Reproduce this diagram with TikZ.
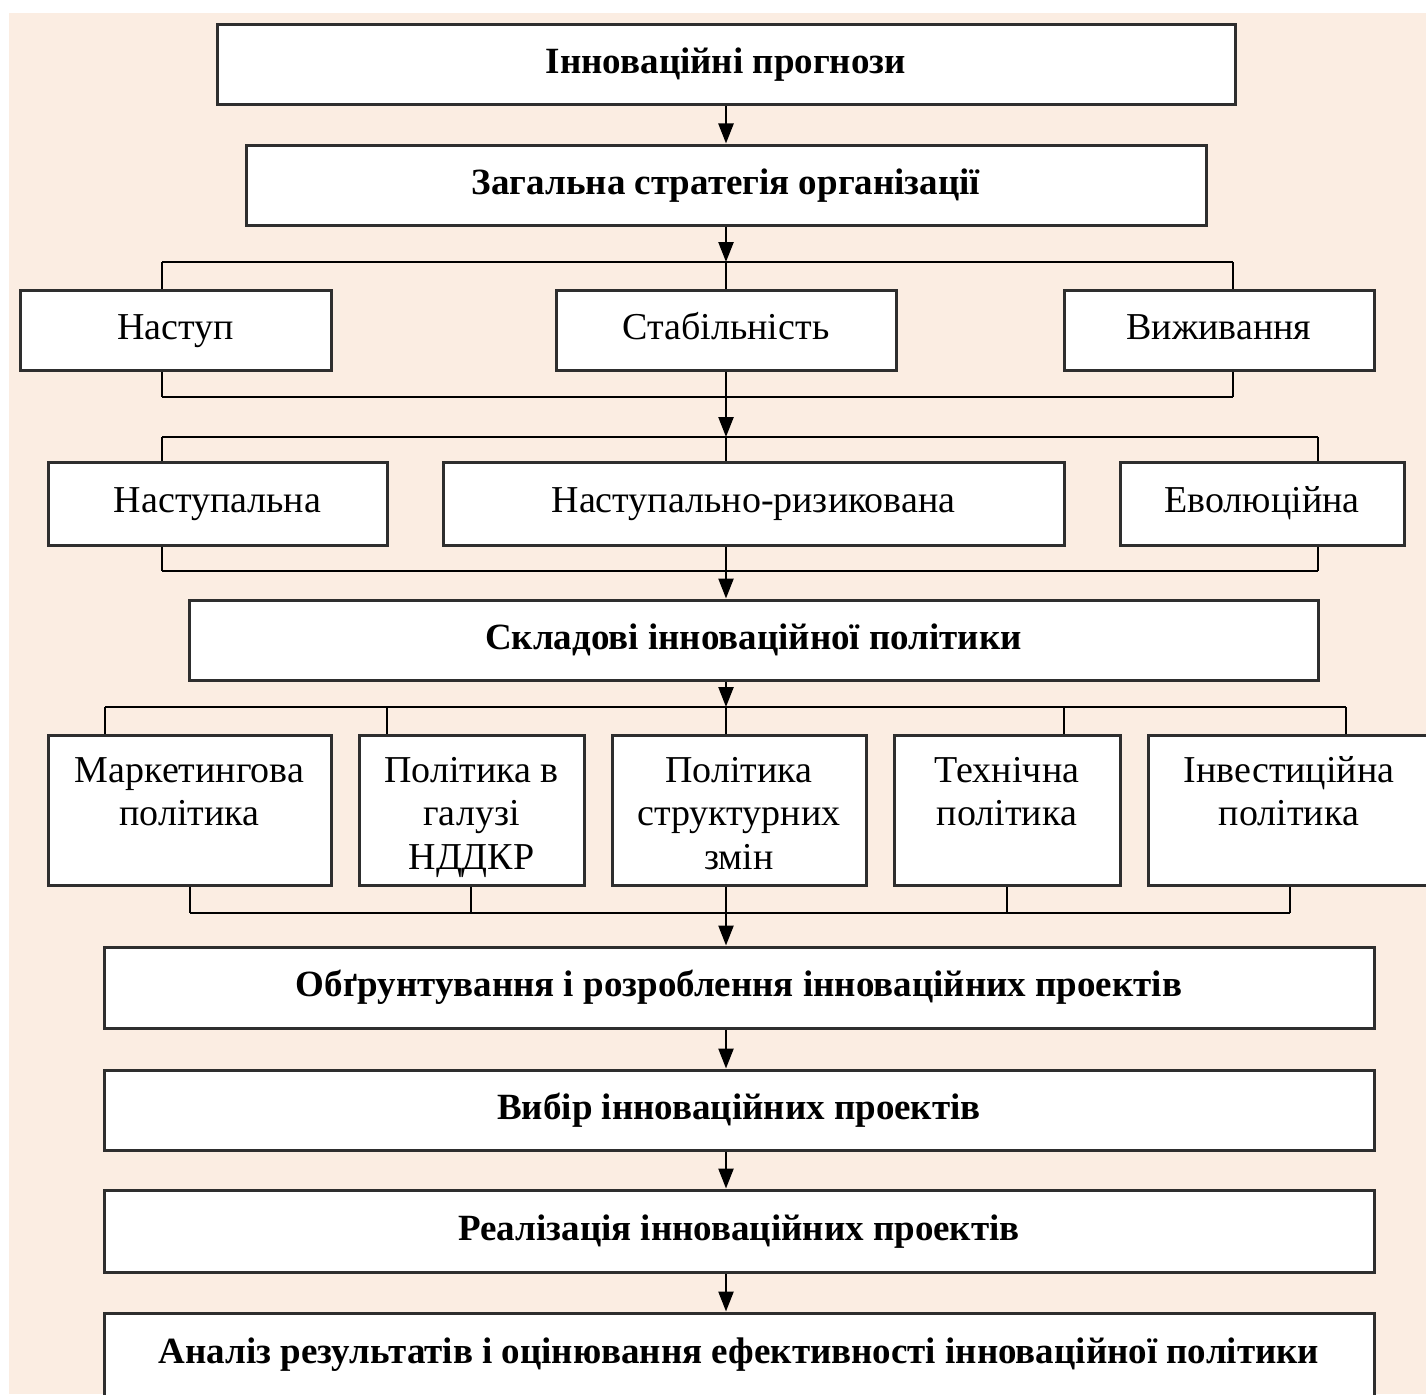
\documentclass[tikz,border=0pt]{standalone}
\usepackage{fontspec}
\setmainfont{Liberation Serif}
\usetikzlibrary{arrows.meta}
\definecolor{bg}{HTML}{FBEDE2}
\definecolor{frame}{HTML}{2E2E2E}
\newcommand\mytopgap{\rule{0pt}{40pt}}
\begin{document}
\begin{tikzpicture}[x=1pt,y=-1pt,
  box/.style={draw=frame, line width=3pt, fill=white, inner sep=0pt, align=center},
  reg/.style={font=\fontsize{38}{43.5}\selectfont},
  one/.style={text height=26pt, text depth=8pt},
  multi/.style={execute at end node=\rule[-9pt]{0pt}{9pt}},
  bld/.style={font=\fontsize{37}{42}\selectfont\bfseries, text height=26pt, text depth=8pt},
  conn/.style={line width=2.4pt, black},
  arr/.style={conn, -{Triangle[width=15pt,length=20pt]}}]
\fill[white] (0,0) rectangle (1426,1394);
\fill[bg] (9,13) rectangle (1426,1394);
\useasboundingbox (0,0) rectangle (1426,1394);

% coordinates of connector junctions
\coordinate (t1) at (726,262);  \coordinate (t1L) at (162,262);  \coordinate (t1R) at (1233,262);
\coordinate (u1) at (726,397);  \coordinate (u1L) at (162,397);  \coordinate (u1R) at (1233,397);
\coordinate (t2) at (726,437);  \coordinate (t2L) at (162,437);  \coordinate (t2R) at (1318,437);
\coordinate (u2) at (726,571);  \coordinate (u2L) at (162,571);  \coordinate (u2R) at (1318,571);
\coordinate (t3) at (726,707);  \coordinate (t3a) at (105,707); \coordinate (t3b) at (387,707);
\coordinate (t3d) at (1064,707); \coordinate (t3e) at (1346,707);
\coordinate (u3) at (726,913);  \coordinate (u3a) at (190,913); \coordinate (u3b) at (471,913);
\coordinate (u3d) at (1007,913); \coordinate (u3e) at (1290,913);

% connectors (drawn first, boxes cover their ends)
\draw[conn] (t1L) -- (t1R);
\draw[conn] (u1L) -- (u1R);
\draw[conn] (t2L) -- (t2R);
\draw[conn] (u2L) -- (u2R);
\draw[conn] (t3a) -- (t3e);
\draw[conn] (u3a) -- (u3e);

% boxes
\node[box, bld, minimum width=1018pt, minimum height=80pt] (prog) at (726,65) {Інноваційні прогнози};
\node[box, bld, minimum width=960pt, minimum height=80pt] (strat) at (726,185) {Загальна стратегія організації};

\node[box, reg, one, minimum width=311pt, minimum height=80pt] (nast) at (175.5,330) {Наступ};
\node[box, reg, one, minimum width=340pt, minimum height=80pt] (stab) at (726,330) {Стабільність};
\node[box, reg, one, minimum width=310pt, minimum height=80pt] (vyzh) at (1219,330) {Виживання};

\node[box, reg, one, minimum width=339pt, minimum height=83pt] (nastp) at (217.5,503.5) {Наступальна};
\node[box, reg, one, minimum width=621pt, minimum height=83pt] (nr) at (753.5,503.5) {Наступально-ризикована};
\node[box, reg, one, minimum width=284pt, minimum height=83pt] (evol) at (1262,503.5) {Еволюційна};

\node[box, bld, minimum width=1129pt, minimum height=80pt] (sklad) at (753.5,640) {Складові інноваційної політики};

\node[box, reg, multi, minimum width=283pt, minimum height=150pt] (mark) at (189.5,810) {\mytopgap Маркетингова\\політика\\~};
\node[box, reg, multi, minimum width=225pt, minimum height=150pt] (nddkr) at (471.5,810) {\mytopgap Політика в\\галузі\\НДДКР};
\node[box, reg, multi, minimum width=254pt, minimum height=150pt] (struk) at (739,810) {\mytopgap Політика\\структурних\\змін};
\node[box, reg, multi, minimum width=226pt, minimum height=150pt] (tech) at (1007,810) {\mytopgap Технічна\\політика\\~};
\node[box, reg, multi, minimum width=282pt, minimum height=150pt] (inv) at (1289,810) {\mytopgap Інвестиційна\\політика\\~};

\node[box, bld, minimum width=1270pt, minimum height=81pt] (obg) at (739,987.5) {Обґрунтування і розроблення інноваційних проектів};
\node[box, bld, minimum width=1270pt, minimum height=80pt] (vyb) at (739,1110) {Вибір інноваційних проектів};
\node[box, bld, minimum width=1270pt, minimum height=82pt] (real) at (739,1231) {Реалізація інноваційних проектів};
\node[box, bld, minimum width=1270pt, minimum height=83pt] (anal) at (739,1354.5) {Аналіз результатів і оцінювання ефективності інноваційної політики};

% vertical connectors
\draw[arr] (prog.south) -- (strat.north);
\draw[arr] (strat.south) -- (t1);
\draw[conn] (t1) -- (stab.north);
\draw[conn] (t1L) -- (t1L |- nast.north);
\draw[conn] (t1R) -- (t1R |- vyzh.north);
\draw[conn] (u1L |- nast.south) -- (u1L);
\draw[conn] (u1R |- vyzh.south) -- (u1R);
\draw[conn] (stab.south) -- (u1);
\draw[arr] (u1) -- (t2);

\draw[conn] (t2) -- (t2 |- nr.north);
\draw[conn] (t2L) -- (t2L |- nastp.north);
\draw[conn] (t2R) -- (t2R |- evol.north);
\draw[conn] (u2L |- nastp.south) -- (u2L);
\draw[conn] (u2R |- evol.south) -- (u2R);
\draw[conn] (u2 |- nr.south) -- (u2);
\draw[arr] (u2) -- (u2 |- sklad.north);

\draw[arr] (t3 |- sklad.south) -- (t3);
\draw[conn] (t3a) -- (t3a |- mark.north);
\draw[conn] (t3b) -- (t3b |- nddkr.north);
\draw[conn] (t3) -- (t3 |- struk.north);
\draw[conn] (t3d) -- (t3d |- tech.north);
\draw[conn] (t3e) -- (t3e |- inv.north);
\draw[conn] (u3a |- mark.south) -- (u3a);
\draw[conn] (u3b |- nddkr.south) -- (u3b);
\draw[conn] (u3 |- struk.south) -- (u3);
\draw[conn] (u3d |- tech.south) -- (u3d);
\draw[conn] (u3e |- inv.south) -- (u3e);
\draw[arr] (u3) -- (u3 |- obg.north);

\draw[arr] (u3 |- obg.south) -- (u3 |- vyb.north);
\draw[arr] (u3 |- vyb.south) -- (u3 |- real.north);
\draw[arr] (u3 |- real.south) -- (u3 |- anal.north);
\end{tikzpicture}
\end{document}
